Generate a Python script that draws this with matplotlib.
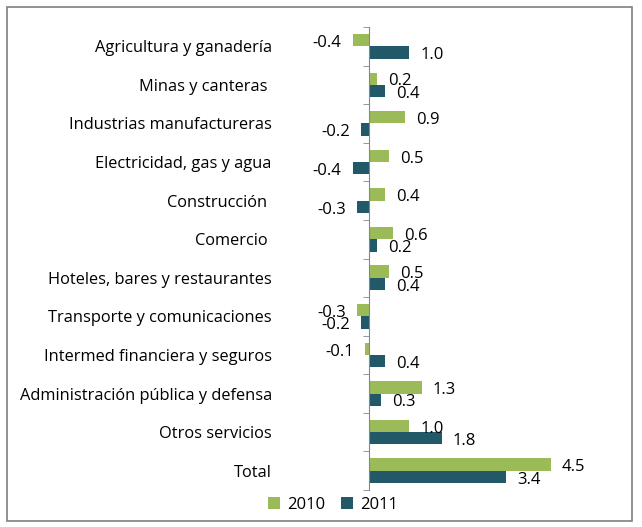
import matplotlib
matplotlib.use('Agg')
import matplotlib.pyplot as plt
from matplotlib.patches import Rectangle
import numpy as np

plt.rcParams['font.family'] = ['Open Sans', 'DejaVu Sans']

categories = ['Agricultura y ganadería', 'Minas y canteras ', 'Industrias manufactureras',
              'Electricidad, gas y agua', 'Construcción ', 'Comercio ',
              'Hoteles, bares y restaurantes', 'Transporte y comunicaciones',
              'Intermed financiera y seguros', 'Administración pública y defensa',
              'Otros servicios', 'Total']
values_2010 = [-0.4, 0.2, 0.9, 0.5, 0.4, 0.6, 0.5, -0.3, -0.1, 1.3, 1.0, 4.5]
values_2011 = [1.0, 0.4, -0.2, -0.4, -0.3, 0.2, 0.4, -0.2, 0.4, 0.3, 1.8, 3.4]

color_2010 = '#9BBB59'
color_2011 = '#215968'

fig = plt.figure(figsize=(6.42, 5.27), dpi=100)
fig.patches.append(Rectangle((7 / 642, 1 - 521 / 527), 625 / 642, 514 / 527,
                             transform=fig.transFigure, fill=False,
                             edgecolor='#7f7f7f', linewidth=1.2))

# axes: zero line at x=369px, 40.4 px per unit
x0_px, ppu = 369, 40.4
xmin, xmax = -1.0, 6.0
left = (x0_px + xmin * ppu) / 642
width = (xmax - xmin) * ppu / 642
ax = fig.add_axes([left, 1 - 490 / 527, width, (490 - 27) / 527])

n = len(categories)
y = np.arange(n)
h = 0.32
ax.barh(y - h / 2, values_2010, height=h, color=color_2010, label='2010')
ax.barh(y + h / 2, values_2011, height=h, color=color_2011, label='2011')

ax.set_xlim(xmin, xmax)
ax.set_ylim(n - 0.5, -0.5)

for s in ['top', 'right', 'bottom']:
    ax.spines[s].set_visible(False)
ax.spines['left'].set_position(('data', 0))
ax.spines['left'].set_color('#868686')
ax.set_xticks([])
ax.set_yticks(y)
ax.set_yticklabels(categories, fontsize=11.8)
ax.tick_params(axis='y', which='major', length=0, pad=70)
ax.set_yticks(np.arange(-0.5, n, 1), minor=True)
ax.tick_params(axis='y', which='minor', length=4, color='#868686')

for vals, off in [(values_2010, -h / 2), (values_2011, h / 2)]:
    for yi, v in zip(y, vals):
        ax.annotate(f'{v:.1f}', (v, yi + off), xytext=(8 if v >= 0 else -8, -2),
                    textcoords='offset points', va='center',
                    ha='left' if v >= 0 else 'right', fontsize=12)

fig.legend(loc='center', bbox_to_anchor=(333 / 642, 1 - 505 / 527), ncol=2,
           frameon=False, fontsize=12, handlelength=0.7, handleheight=0.7,
           handletextpad=0.4, columnspacing=1.0)

fig.savefig('out.png', dpi=100)
